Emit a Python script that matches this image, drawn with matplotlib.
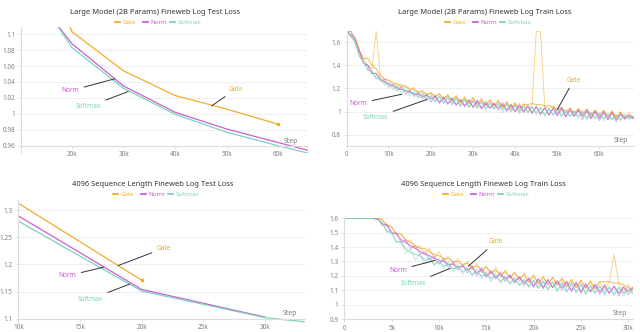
import numpy as np
import pandas as pd
import matplotlib
matplotlib.use("Agg")
import matplotlib.pyplot as plt
from matplotlib.ticker import FuncFormatter

plt.rcParams['font.family'] = ['Noto Sans', 'DejaVu Sans']

# series colours
GATE = '#f0ad2c'
NORM = '#c95fd6'
SOFTMAX = '#7fd1be'

# --- large model, test loss (eval every 10k steps)
big_test_steps = [10000, 20000, 30000, 40000, 50000, 60000, 70000]
big_test_gate = [1.25, 1.103, 1.054, 1.023, 1.006, 0.987]
big_test_norm = [1.17, 1.088, 1.035, 1.002, 0.981, 0.964, 0.947]
big_test_softmax = [1.18, 1.083, 1.032, 0.9995, 0.977, 0.960, 0.944]

# --- large model, train loss (every 1k steps)
big_train_gate = [1.90, 1.82, 1.64, 1.53, 1.46, 1.40, 1.37, 1.75, 1.31, 1.28,
                  1.27, 1.23, 1.25, 1.20, 1.23, 1.17, 1.21, 1.15, 1.19, 1.13,
                  1.17, 1.11, 1.16, 1.10, 1.15, 1.08, 1.14, 1.07, 1.13, 1.06,
                  1.12, 1.05, 1.12, 1.05, 1.10, 1.04, 1.10, 1.03, 1.09, 1.02,
                  1.08, 1.02, 1.07, 1.01, 1.06, 1.80, 1.80, 1.05, 1.02, 1.05,
                  0.99, 1.04, 0.99, 1.03, 0.98, 1.03, 0.97, 1.02, 0.96, 1.02,
                  0.96, 1.01, 0.95, 1.01, 0.95, 1.00, 0.94, 0.99, 0.95]
big_train_norm = [1.90, 1.80, 1.62, 1.52, 1.42, 1.40, 1.33, 1.33, 1.26, 1.28,
                  1.21, 1.24, 1.18, 1.22, 1.15, 1.19, 1.13, 1.17, 1.11, 1.15,
                  1.08, 1.14, 1.07, 1.13, 1.06, 1.12, 1.05, 1.11, 1.04, 1.10,
                  1.03, 1.10, 1.02, 1.09, 1.03, 1.07, 1.01, 1.08, 1.00, 1.06,
                  1.00, 1.07, 0.99, 1.05, 0.98, 1.05, 0.97, 1.04, 0.97, 1.03,
                  0.96, 1.04, 0.95, 1.02, 0.96, 1.01, 0.93, 1.02, 0.94, 1.00,
                  0.92, 1.00, 0.93, 0.99, 0.91, 0.99, 0.93, 0.97, 0.94]
big_train_softmax = [1.90, 1.78, 1.60, 1.48, 1.43, 1.36, 1.35, 1.28, 1.29, 1.23,
                     1.25, 1.19, 1.22, 1.16, 1.19, 1.13, 1.18, 1.11, 1.16, 1.09,
                     1.15, 1.08, 1.13, 1.07, 1.13, 1.05, 1.12, 1.04, 1.11, 1.03,
                     1.10, 1.03, 1.09, 1.01, 1.08, 1.02, 1.07, 0.99, 1.07, 1.00,
                     1.06, 0.98, 1.05, 0.99, 1.04, 0.97, 1.04, 0.96, 1.03, 0.97,
                     1.02, 0.95, 1.02, 0.96, 1.00, 0.94, 1.01, 0.93, 0.99, 0.94,
                     0.99, 0.92, 0.98, 0.93, 0.97, 0.92, 0.98, 0.93, 0.96]

# --- 4096 seq len, test loss
seq_test_steps = [10000, 20000, 30000, 40000]
seq_test_gate = [1.313, 1.171]
seq_test_norm = [1.2896, 1.154, 1.103]
seq_test_softmax = [1.280, 1.151, 1.102, 1.078]

# --- 4096 seq len, train loss (every 500 steps)
seq_train_gate = [1.75, 1.75, 1.75, 1.75, 1.75, 1.75, 1.75,
                  1.63, 1.59, 1.55, 1.54, 1.49, 1.49, 1.43, 1.45, 1.39, 1.41,
                  1.35, 1.39, 1.32, 1.37, 1.30, 1.34, 1.28, 1.32, 1.26, 1.30,
                  1.24, 1.29, 1.22, 1.27, 1.21, 1.26, 1.19, 1.24, 1.18, 1.23,
                  1.16, 1.22, 1.15, 1.21, 1.14, 1.20, 1.14, 1.19, 1.13, 1.19,
                  1.12, 1.18, 1.12, 1.17, 1.11, 1.17, 1.11, 1.16, 1.10, 1.16,
                  1.35, 1.15, 1.09, 1.14, 1.10]
seq_train_norm = [1.75, 1.75, 1.75, 1.75, 1.75, 1.75, 1.75,
                  1.62, 1.55, 1.56, 1.49, 1.50, 1.43, 1.45, 1.39, 1.41, 1.35,
                  1.37, 1.31, 1.34, 1.28, 1.32, 1.26, 1.30, 1.24, 1.28, 1.22,
                  1.27, 1.20, 1.26, 1.19, 1.24, 1.18, 1.23, 1.16, 1.21, 1.15,
                  1.20, 1.13, 1.19, 1.12, 1.18, 1.11, 1.18, 1.12, 1.17, 1.10,
                  1.16, 1.09, 1.16, 1.08, 1.15, 1.09, 1.14, 1.07, 1.14, 1.08,
                  1.13, 1.06, 1.13, 1.07, 1.12]
seq_train_softmax = [1.75, 1.75, 1.75, 1.75, 1.75, 1.75, 1.75,
                     1.59, 1.57, 1.50, 1.51, 1.43, 1.44, 1.36, 1.39, 1.31, 1.35,
                     1.28, 1.34, 1.27, 1.32, 1.25, 1.30, 1.23, 1.28, 1.21, 1.26,
                     1.20, 1.25, 1.18, 1.23, 1.16, 1.22, 1.15, 1.20, 1.14, 1.19,
                     1.13, 1.18, 1.12, 1.17, 1.11, 1.17, 1.10, 1.16, 1.09, 1.16,
                     1.09, 1.15, 1.08, 1.15, 1.07, 1.14, 1.08, 1.13, 1.06, 1.13,
                     1.07, 1.12, 1.06, 1.12, 1.08]

W, H = 640, 332
fig = plt.figure(figsize=(W / 100, H / 100), dpi=100)
GREY = '#808080'


def add_ax(l, t, r, b):
    # pixel box -> figure fraction
    return fig.add_axes([l / W, 1 - b / H, (r - l) / W, (b - t) / H])


def kfmt(v, pos):
    return '0' if v == 0 else f'{v / 1000:g}k'


def style(ax, xticks, yticks, base, step_pos):
    for s in ['top', 'right']:
        ax.spines[s].set_visible(False)
    for s in ['left', 'bottom']:
        ax.spines[s].set_color('#dcdcdc')
        ax.spines[s].set_linewidth(0.8)
    ax.spines['bottom'].set_position(('data', base))
    ax.set_xticks(xticks)
    ax.set_yticks(yticks)
    ax.xaxis.set_major_formatter(FuncFormatter(kfmt))
    ax.yaxis.set_major_formatter(FuncFormatter(lambda v, p: f'{v:g}'))
    ax.tick_params(labelsize=4.6, colors='#dcdcdc', labelcolor=GREY,
                   length=2.2, width=0.6, pad=2)
    ax.tick_params(axis='x', pad=1.8)
    ax.grid(axis='y', color='#efefef', lw=0.7)
    ax.set_axisbelow(True)
    ax.set_facecolor('none')
    ax.text(step_pos[0], step_pos[1], 'Step', transform=ax.transAxes,
            ha='right', va='center', fontsize=5, color=GREY)


def header(x, y, title):
    fig.text(x / W, 1 - y / H, title, ha='center', va='center',
             fontsize=5.4, fontweight='bold', color='#333333')
    for i, (name, c) in enumerate([('Gate', GATE), ('Norm', NORM), ('Softmax', SOFTMAX)]):
        x0 = x - 40 + i * 27.5
        fig.lines.append(plt.Line2D([x0 / W, (x0 + 5) / W],
                                    [1 - (y + 10) / H] * 2, color=c, lw=1.3,
                                    transform=fig.transFigure))
        fig.text((x0 + 7.5) / W, 1 - (y + 10) / H, name, ha='left',
                 va='center', fontsize=4.4, color=c)


def note(ax, text, c, xy, xytext):
    ax.annotate(text, xy=xy, xytext=xytext, fontsize=4.7, color=c,
                ha='center', va='center',
                arrowprops=dict(arrowstyle='-', color='#333333', lw=0.7,
                                shrinkA=1.5, shrinkB=0))


def train_lines(ax, series, every, top):
    for vals, c in series:
        steps = np.arange(len(vals)) * every
        shown = np.minimum(vals, top)  # values above the top are drawn at the edge
        ax.plot(steps, shown, color=c, lw=0.6, alpha=0.6)
        smooth = pd.Series(shown).rolling(5, center=True, min_periods=1).median()
        ax.plot(steps, smooth, color=c, lw=0.8, alpha=0.75)


# top left
ax = add_ax(21, 27, 308, 152.9)
ax.plot(big_test_steps[:len(big_test_gate)], big_test_gate, color=GATE, lw=0.9,
        marker='s', ms=1.8, markevery=[-1])
ax.plot(big_test_steps, big_test_norm, color=NORM, lw=0.9)
ax.plot(big_test_steps, big_test_softmax, color=SOFTMAX, lw=0.9)
ax.set_xlim(10100, 65800)
ax.set_ylim(0.951, 1.109)
style(ax, [20000, 30000, 40000, 50000, 60000], np.arange(0.96, 1.101, 0.02),
      0.96, (0.965, 0.094))
note(ax, 'Norm', NORM, (28300, 1.044), (19700, 1.029))
note(ax, 'Softmax', SOFTMAX, (30900, 1.028), (23200, 1.009))
note(ax, 'Gate', GATE, (47100, 1.010), (51800, 1.031))
header(155, 12, 'Large Model (2B Params) Fineweb Log Test Loss')

# top right
ax = add_ax(346.7, 30.7, 634, 145.7)
train_lines(ax, [(big_train_gate, GATE), (big_train_norm, NORM),
                 (big_train_softmax, SOFTMAX)], 1000, 1.695)
ax.set_xlim(0, 68200)
ax.set_ylim(0.704, 1.70)
style(ax, np.arange(0, 60001, 10000), [0.8, 1, 1.2, 1.4, 1.6], 0.704,
      (0.979, 0.041))
note(ax, 'Norm', NORM, (13100, 1.15), (2800, 1.07))
note(ax, 'Softmax', SOFTMAX, (19000, 1.104), (6900, 0.948))
note(ax, 'Gate', GATE, (50000, 1.017), (53900, 1.272))
header(485, 12, 'Large Model (2B Params) Fineweb Log Train Loss')

# bottom left
ax = add_ax(18.3, 200, 305, 324.1)
ax.plot(seq_test_steps[:len(seq_test_gate)], seq_test_gate, color=GATE, lw=0.9,
        marker='s', ms=1.8, markevery=[-1])
ax.plot(seq_test_steps[:len(seq_test_norm)], seq_test_norm, color=NORM, lw=0.9)
ax.plot(seq_test_steps, seq_test_softmax, color=SOFTMAX, lw=0.9)
ax.set_xlim(10000, 33250)
ax.set_ylim(1.09, 1.319)
style(ax, np.arange(10000, 30001, 5000), [1.1, 1.15, 1.2, 1.25, 1.3], 1.1,
      (0.971, 0.084))
note(ax, 'Gate', GATE, (18100, 1.198), (21800, 1.230))
note(ax, 'Norm', NORM, (16900, 1.195), (14000, 1.179))
note(ax, 'Softmax', SOFTMAX, (19050, 1.164), (15850, 1.136))
header(153, 184, '4096 Sequence Length Fineweb Log Test Loss')

# bottom right
ax = add_ax(344.3, 217.7, 633, 319.3)
train_lines(ax, [(seq_train_gate, GATE), (seq_train_norm, NORM),
                 (seq_train_softmax, SOFTMAX)], 500, 1.598)
ax.set_xlim(0, 30500)
ax.set_ylim(0.9, 1.603)
style(ax, np.arange(0, 30001, 5000), np.arange(0.9, 1.61, 0.1), 0.9,
      (0.978, 0.055))
note(ax, 'Gate', GATE, (13100, 1.267), (16000, 1.435))
note(ax, 'Norm', NORM, (9600, 1.308), (5700, 1.240))
note(ax, 'Softmax', SOFTMAX, (11200, 1.253), (7300, 1.148))
header(483, 184, '4096 Sequence Length Fineweb Log Train Loss')

fig.savefig('out.png', dpi=100, facecolor='white')
